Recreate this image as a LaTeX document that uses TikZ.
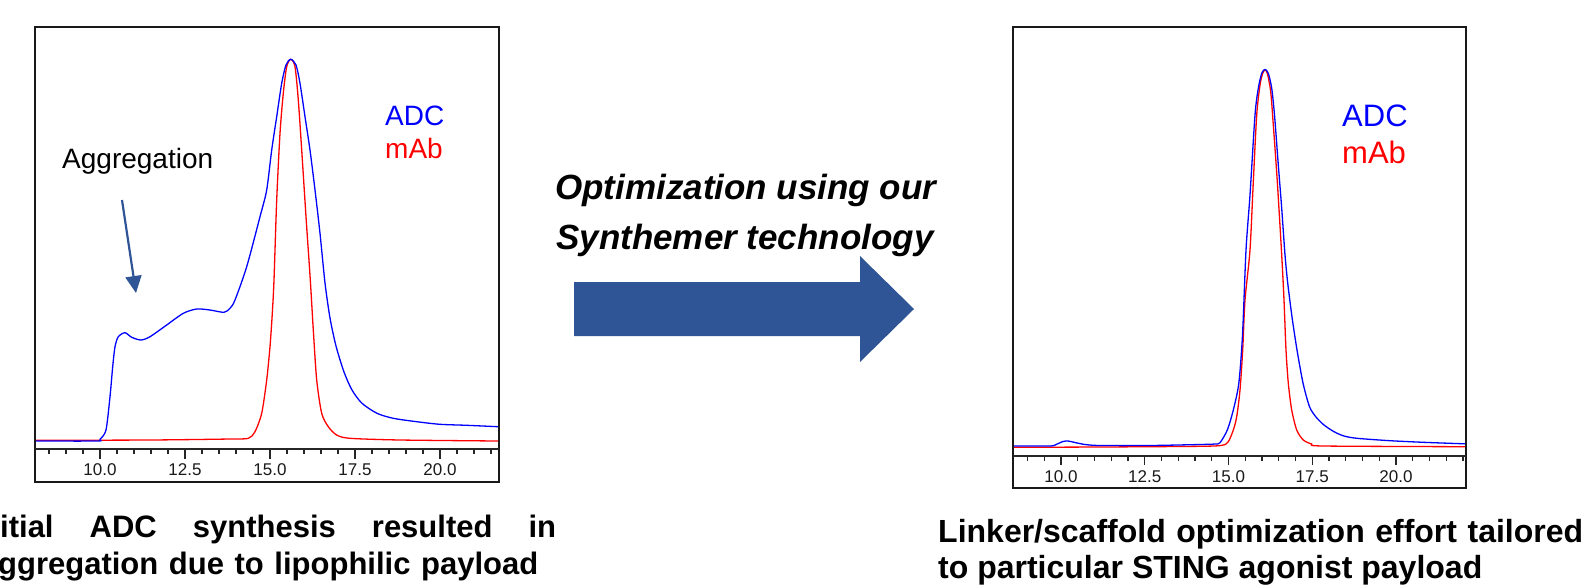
\documentclass[tikz,border=0pt]{standalone}
\usepackage{fontspec}
\setmainfont{Liberation Sans}
\usetikzlibrary{arrows.meta}
\definecolor{navy}{HTML}{2F5597}
\definecolor{adcblue}{HTML}{0000FF}
\definecolor{mabred}{HTML}{FF0000}
\begin{document}
\begin{tikzpicture}[x=1pt,y=-1pt,
  frame/.style={draw=black!90, line width=2pt},
  axisline/.style={draw=black!85, line width=1.5pt},
  tickmark/.style={draw=black!85, line width=1.1pt},
  ticklab/.style={font=\fontsize{17}{20}\selectfont, inner sep=0pt, anchor=center, text=black!90},
  adc/.style={draw=adcblue, line width=1.3pt, line join=round},
  mab/.style={draw=mabred, line width=1.3pt, line join=round},
  legadc/.style={text=adcblue, inner sep=0pt, anchor=base west},
  legmab/.style={text=mabred, inner sep=0pt, anchor=base west},
  caption/.style={font=\fontsize{31}{36}\selectfont\bfseries, inner sep=0pt, anchor=base west},
  rcaption/.style={font=\fontsize{32}{37}\selectfont\bfseries, inner sep=0pt, anchor=base west},
  midtext/.style={font=\fontsize{35}{40}\selectfont\bfseries\itshape, inner sep=0pt, anchor=base west},
  aggarrow/.style={draw=navy, line width=2.2pt, -{Triangle[width=16pt,length=17pt]}},
]
\useasboundingbox (0,0) rectangle (1593,584);
\clip (0,0) rectangle (1593,584);

% ---------------- left chromatogram ----------------
\draw[frame] (35,27) rectangle (499,482);
\draw[axisline] (35,449) -- (499,449);
\foreach \k in {17,...,43}{
  \pgfmathsetmacro{\tl}{mod(\k,5)==0 ? 10 : 5}
  \draw[tickmark] ({100+(\k-20)*17},449) -- ++(0,\tl);
}
\foreach \v/\k in {10.0/20,12.5/25,15.0/30,17.5/35,20.0/40}{
  \node[ticklab] (lt\k) at ({100+(\k-20)*17},470) {\v};
}
% mAb (red)
\draw[mab] plot[smooth, tension=0.45] coordinates {
 (36,440.3) (150,440) (230,439) (248.3,438.3) (255,431.7) (261.7,413.3) (266.7,380)
 (270,346.7) (272.3,313.3) (274,280) (276.7,200) (280,133.3) (283.3,93.3) (286.7,66.7)
 (290.7,59.3) (295,66.7) (298.3,100) (301.7,150) (306,216.7) (310.3,280) (313.3,330)
 (316.7,380) (321.7,413.3) (328.3,426.7) (336.7,435) (350,438.3) (400,440) (498,441)};
% ADC (blue)
\draw[adc] plot[smooth, tension=0.45] coordinates {
 (36,441) (97,441) (100,439.3) (106,430) (110,396.7) (112.7,366.7) (115,346.7) (118.3,336.7)
 (125,332.7) (131.7,337.3) (141,340) (150,336.7) (166.7,325) (183.3,313.3) (196.7,309)
 (210,310) (224,312.3) (230,308.3) (235,300) (246.7,266.7) (260,216.7) (266.7,190)
 (271.7,150) (276.7,116.7) (281.7,83.3) (286,65) (290.7,59.3) (296,65) (300,83.3)
 (305,116.7) (310,150) (315,190) (320,233.3) (325,283) (330,318) (336,346)
 (344,372) (352,390) (362,403.3) (377,413.3) (393.3,418.3) (416.7,421.7) (440,424.3)
 (466.7,425.3) (498,426.7)};
\node[legadc, font=\fontsize{28}{32}\selectfont] (ladc) at (385,125) {ADC};
\node[legmab, font=\fontsize{28}{32}\selectfont] (lmab) at (385,158) {mAb};
\node[inner sep=0pt, anchor=base west, font=\fontsize{28}{32}\selectfont] (agg) at (62,168) {Aggregation};
\coordinate (aggS) at (122,200);
\coordinate (aggE) at (136,293);
\draw[aggarrow] (aggS) -- (aggE);

\node[caption] (lcap1) at (0,537) {\hbox to 556pt{itial\hfill ADC\hfill synthesis\hfill resulted\hfill in}};
\node[caption] (lcap2) at (-2,574) {\hbox to 540pt{ggregation\hfill due\hfill to\hfill lipophilic\hfill payload}};

% ---------------- middle ----------------
\node[midtext] (mid1) at (555,199) {Optimization using our};
\node[midtext] (mid2) at (556,249) {Synthemer technology};
\fill[navy] (574,282) -- (860,282) -- (860,256) -- (914,309) -- (860,362) -- (860,336) -- (574,336) -- cycle;

% ---------------- right chromatogram ----------------
\draw[frame] (1013,27) rectangle (1466,488);
\draw[axisline] (1013,456) -- (1466,456);
\foreach \k in {18,...,44}{
  \pgfmathsetmacro{\tl}{mod(\k,5)==0 ? 9 : 5}
  \draw[tickmark] ({1061+(\k-20)*16.75},456) -- ++(0,\tl);
}
\foreach \v/\k in {10.0/20,12.5/25,15.0/30,17.5/35,20.0/40}{
  \node[ticklab] (rt\k) at ({1061+(\k-20)*16.75},477) {\v};
}
% mAb (red)
\draw[mab] plot[smooth, tension=0.45] coordinates {
 (1014,447.3) (1100,447) (1200,446.3) (1222,445.3) (1228.3,441.7) (1233.3,430) (1236.7,416.7)
 (1240,390) (1242.7,350) (1245,300) (1250,250) (1253.3,181.7) (1256.7,115) (1260,85)
 (1262.7,73.3) (1265,70) (1267.3,73.3) (1270.7,91.7) (1273.3,125) (1277.3,181.7)
 (1281.7,255) (1284,300) (1286,350) (1288.3,383.3) (1291.7,410) (1296.7,430) (1303.3,440)
 (1311.7,444) (1323.3,446) (1465,446.7)};
% ADC (blue)
\draw[adc] plot[smooth, tension=0.45] coordinates {
 (1014,446) (1050,446) (1056,444.5) (1063,441.5) (1068,441) (1075,442.5) (1085,444.5)
 (1100,445.5) (1150,445.5) (1200,444.5) (1215,444) (1220,442.7) (1227.3,430) (1233.3,410)
 (1238.8,383.3) (1242.5,335) (1246,250) (1250,195) (1255,115) (1258.3,88.3)
 (1261.7,73.3) (1265,69.3) (1268.3,73.3) (1271.7,88.3) (1274.5,115) (1278.3,165)
 (1281.7,208.3) (1285,255) (1287.7,283) (1292,317) (1297,350) (1303,383)
 (1309.5,406.7) (1316,417) (1324,425) (1334,431.7) (1344,436) (1357,438.3)
 (1390,440.7) (1423.3,442.3) (1450,443.3) (1465,443.8)};
\node[legadc, font=\fontsize{31}{35}\selectfont] (radc) at (1342,126) {ADC};
\node[legmab, font=\fontsize{31}{35}\selectfont] (rmab) at (1342,163) {mAb};

\node[rcaption] (rcap1) at (938,542) {\hbox to 645pt{Linker/scaffold\hfill optimization\hfill effort\hfill tailored}};
\node[rcaption] (rcap2) at (938,578) {to particular STING agonist payload};
\end{tikzpicture}
\end{document}
